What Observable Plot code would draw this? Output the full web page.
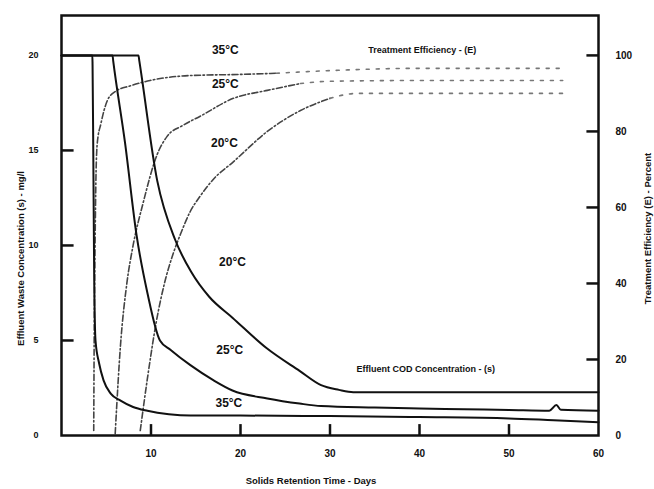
<!DOCTYPE html>
<html><head><meta charset="utf-8">
<script src="https://cdn.jsdelivr.net/npm/d3@7"></script>
<script src="https://cdn.jsdelivr.net/npm/@observablehq/plot@0.6"></script>
<style>
html,body{margin:0;padding:0;background:#fff;}
</style></head><body><div id="chart"></div>
<script>
// Effluent waste concentration (s), mg/l  (left axis)
const solid35Days = [0, 3.45, 3.47, 3.55, 3.65, 3.8, 4.2, 4.7, 5.5, 6.6, 8, 9.6, 12, 14.4, 20, 30, 40, 50, 55, 60];
const solid35Conc = [20, 20, 19.5, 15, 8.5, 5.0, 3.8, 2.9, 2.2, 1.84, 1.5, 1.3, 1.12, 1.05, 1.05, 1.02, 0.97, 0.9, 0.8, 0.7];
const solid25Days = [0, 5.7, 5.78, 7.1, 8.4, 9.6, 11.0, 12.2, 14.4, 17, 19.1, 23, 26.6, 29, 35, 40, 45, 50, 54.5, 55.3, 55.8, 60];
const solid25Conc = [20, 20, 19.7, 15.4, 10.5, 7.5, 5.0, 4.5, 3.7, 2.9, 2.37, 1.95, 1.68, 1.55, 1.47, 1.42, 1.38, 1.34, 1.3, 1.6, 1.35, 1.3];
const solid20Days = [0, 8.6, 8.7, 10.7, 12.7, 14.5, 16.5, 19.1, 22.9, 26.6, 29, 31, 32.6, 60];
const solid20Conc = [20, 20, 19.7, 13.4, 10.3, 8.6, 7.3, 6.2, 4.6, 3.4, 2.65, 2.4, 2.28, 2.28];

// Treatment efficiency (E), percent (right axis)
const eff35Days = [3.6, 3.65, 3.75, 3.85, 4.0, 4.4, 5.1, 6.0, 7.7, 9.9, 14.4, 20, 24, 30, 40, 56];
const eff35Pct  = [1.3, 25, 50, 68, 77, 82, 88, 90.5, 92, 93.4, 94.7, 95, 95.3, 96, 96.6, 96.6];
const eff25Days = [6.0, 6.6, 7.3, 8.0, 9.1, 10.7, 11.8, 13.5, 15.5, 19.2, 23, 26.7, 30, 40, 56];
const eff25Pct  = [0.5, 24, 40, 50, 61, 74, 78.7, 81.5, 84, 88.7, 90.8, 92.6, 93.2, 93.4, 93.4];
const eff20Days = [8.8, 9.6, 10.6, 11.5, 12.5, 13.3, 14.4, 15.5, 17, 19.2, 23, 26.7, 30, 33, 45, 56];
const eff20Pct  = [1.3, 15, 30, 40, 48, 53, 59, 63, 67.5, 72, 80, 85.5, 88.7, 90, 90, 90];
const effTailStart = [24, 26.7, 30];

const temps = ["35°C", "25°C", "20°C"];
const xTicks = [10, 20, 30, 40, 50, 60];
const yTicks = [0, 5, 10, 15, 20];
const pctTicks = [0, 20, 40, 60, 80, 100];

const labelTexts = ["35°C", "25°C", "20°C", "20°C", "25°C", "35°C", "Treatment Efficiency - (E)", "Effluent COD Concentration - (s)"];
const labelDays  = [18.3, 18.3, 18.2, 19.1, 18.8, 18.7, 40.3, 40.7];
const labelConc  = [20.3, 18.5, 15.4, 9.1, 4.5, 1.7, 20.3, 3.5];

const xTitle = "Solids Retention Time - Days";
const yTitle = "Effluent Waste Concentration (s) - mg/l";
const y2Title = "Treatment Efficiency (E) - Percent";

const PCT_PER_UNIT = 5; // 100 % on the right axis sits at 20 mg/l on the left
const X_MAX = 60, Y_MAX = 22.1;
const TICK_DAYS = 1.35;  // inward tick length expressed in x units
const TICK_CONC = 0.6;   // inward tick length expressed in y units

const solidSeries = [[solid35Days, solid35Conc], [solid25Days, solid25Conc], [solid20Days, solid20Conc]];
const solidData = solidSeries.flatMap(([ds, cs], k) => ds.map((d, i) => ({temp: temps[k], day: d, conc: cs[i]})));
const effSeries = [[eff35Days, eff35Pct], [eff25Days, eff25Pct], [eff20Days, eff20Pct]];
const effData = effSeries.flatMap(([ds, ps], k) => ds.map((d, i) => ({temp: temps[k], k, day: d, pct: ps[i]})));
const effMain = effData.filter(d => d.day <= effTailStart[d.k]);
const effTail = effData.filter(d => d.day >= effTailStart[d.k]);
const labels = labelTexts.map((t, i) => ({text: t, day: labelDays[i], conc: labelConc[i], big: i < 6}));

const bottomTicks = xTicks.slice(0, -1);
const leftTicks = yTicks.slice(1, -1);
const rightTicks = pctTicks.slice(1).map(p => p / PCT_PER_UNIT);

const plot = Plot.plot({
  width: 654, height: 489,
  marginLeft: 61, marginRight: 56, marginTop: 15, marginBottom: 54,
  x: {domain: [0, X_MAX]},
  y: {domain: [0, Y_MAX]},
  style: {fontFamily: "'Liberation Sans', Arial, sans-serif", fontWeight: "bold", background: "#fff", color: "#111"},
  marks: [
    Plot.line(effMain, {x: "day", y: d => d.pct / PCT_PER_UNIT, z: "temp", stroke: "#444", strokeWidth: 1.6, strokeDasharray: "6,2.5,1.5,2.5", curve: "monotone-x"}),
    Plot.line(effTail, {x: "day", y: d => d.pct / PCT_PER_UNIT, z: "temp", stroke: "#777", strokeWidth: 1.6, strokeDasharray: "3,7", curve: "monotone-x"}),
    Plot.line(solidData, {x: "day", y: "conc", z: "temp", stroke: "#111", strokeWidth: 2, curve: "monotone-x"}),
    Plot.frame({stroke: "#111", strokeWidth: 2.5}),
    // tick labels
    Plot.axisX({ticks: xTicks, tickSize: 0, tickPadding: 14, label: null, fontSize: 10}),
    Plot.axisY({ticks: yTicks, tickSize: 0, tickPadding: 23, label: null, fontSize: 9}),
    Plot.axisY({anchor: "right", ticks: pctTicks.map(p => p / PCT_PER_UNIT), tickFormat: d => Math.round(d * PCT_PER_UNIT), tickSize: 0, tickPadding: 17, label: null, fontSize: 10}),
    Plot.text(labels.filter(d => d.big), {x: "day", y: "conc", text: "text", fontSize: 12, fontWeight: "bold"}),
    Plot.text(labels.filter(d => !d.big), {x: "day", y: "conc", text: "text", fontSize: 9, fontWeight: "bold"}),
    Plot.text([xTitle], {frameAnchor: "bottom", dx: -19, dy: 48, fontSize: 9.5, fontWeight: "bold"}),
    Plot.text([yTitle], {frameAnchor: "left", textAnchor: "middle", rotate: -90, dx: -41, dy: 33, fontSize: 9.5, fontWeight: "bold"}),
    Plot.text([y2Title], {frameAnchor: "right", textAnchor: "middle", rotate: -90, dx: 49, dy: 3, fontSize: 9.5, fontWeight: "bold"}),
    // inward tick marks (drawn last)
    Plot.link(bottomTicks, {x1: d => d, x2: d => d, y1: 0, y2: TICK_CONC, stroke: "#111", strokeWidth: 2.5}),
    Plot.link(leftTicks, {y1: d => d, y2: d => d, x1: 0, x2: TICK_DAYS, stroke: "#111", strokeWidth: 2.5}),
    Plot.link(rightTicks, {y1: d => d, y2: d => d, x1: X_MAX - TICK_DAYS, x2: X_MAX, stroke: "#111", strokeWidth: 2.5})
  ]
});
document.getElementById("chart").append(plot);
</script></body></html>
